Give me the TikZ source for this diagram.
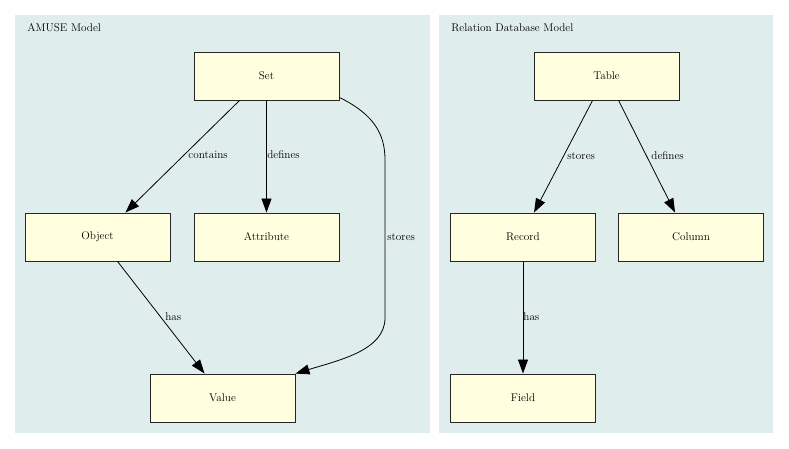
\documentclass[tikz,border=0pt]{standalone}
\usetikzlibrary{arrows.meta}
\definecolor{clusterbg}{HTML}{E0EDED}
\definecolor{nodebg}{HTML}{FFFFE0}

\begin{document}
\begin{tikzpicture}[x=1pt,y=-1pt,>={Triangle[length=14pt,width=10pt]},
  thick,font=\fontsize{11.2}{13}\selectfont,
  main node/.style={rectangle,fill=nodebg,draw=black!85,line width=0.9pt,minimum width=145pt,minimum height=48pt,inner sep=0pt},
  edge label/.style={anchor=west,inner sep=1pt},
  cluster/.style={fill=clusterbg,draw=none}]

  \useasboundingbox (0,0) rectangle (789,449);
  \fill[white] (0,0) rectangle (789,449);

  % clusters
  \path[cluster] (15,15) rectangle (430,433);
  \path[cluster] (439,15) rectangle (773,433);
  \node[anchor=west,inner sep=0pt] (amuse) at (27,28) {AMUSE Model};
  \node[anchor=west,inner sep=0pt] (rdb) at (451,28) {Relation Database Model};

  % AMUSE model
  \node[main node] (set) at (266.5,76) {Set};
  \node[main node] (object) at (97.5,237) {Object};
  \node[main node] (attribute) at (266.5,237) {Attribute};
  \node[main node] (value) at (222.5,398) {Value};

  % relational database model
  \node[main node] (table) at (606.5,76) {Table};
  \node[main node] (record) at (523,237) {Record};
  \node[main node] (column) at (691,237) {Column};
  \node[main node] (field) at (523,398) {Field};

  \coordinate (s1) at ([xshift=46pt]set.south west);
  \coordinate (s2) at ([yshift=3pt]set.south east);
  \coordinate (o1) at ([xshift=93pt]object.south west);
  \coordinate (t1) at ([xshift=59pt]table.south west);
  \coordinate (t2) at ([xshift=85pt]table.south west);

  \path[->,line width=0.8pt]
    (s1) edge ([xshift=-45pt]object.north east)
    (set) edge (attribute)
    (o1) edge ([xshift=55pt]value.north west)
    (t1) edge ([xshift=84pt]record.north west)
    (t2) edge ([xshift=57pt]column.north west)
    (record) edge (field);

  \draw[->,line width=0.8pt] (s2)
    .. controls (375,115) and (385,135) .. (385,160)
    -- (385,318) .. controls (385,350) and (340,360) .. (value.north east);

  \node[edge label] (lcontains) at (187,155) {contains};
  \node[edge label] (ldefines) at (266,155) {defines};
  \node[edge label] (lstores) at (386,237) {stores};
  \node[edge label] (lhas) at (164,317) {has};
  \node[edge label] (lstores2) at (566,156) {stores};
  \node[edge label] (ldefines2) at (650,156) {defines};
  \node[edge label] (lhas2) at (522,317) {has};

\end{tikzpicture}
\end{document}
